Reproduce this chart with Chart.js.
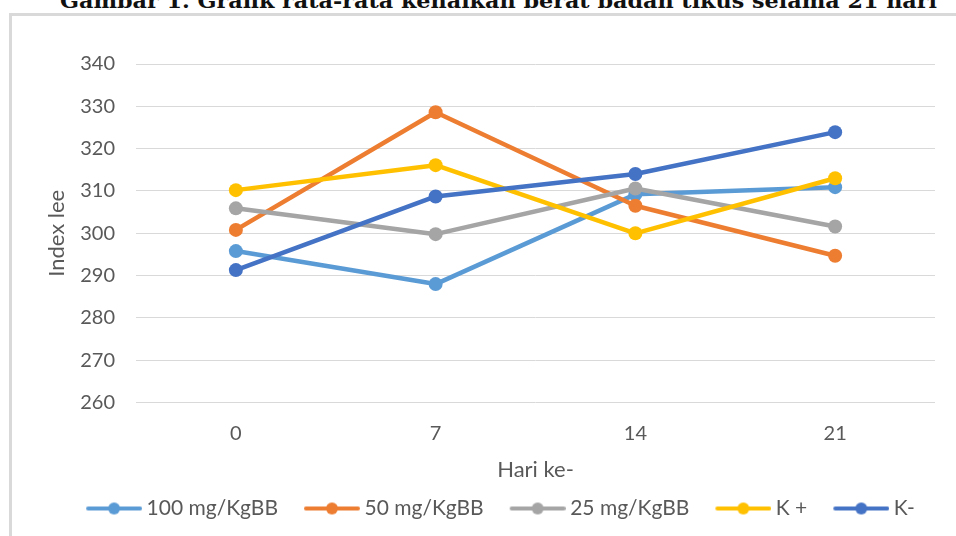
<!DOCTYPE html>
<html>
<head>
<meta charset="utf-8">
<script src="https://cdn.jsdelivr.net/npm/chart.js@4"></script>
<style>
  html, body { margin: 0; padding: 0; width: 956px; height: 536px; overflow: hidden; background: #fff; }
  #caption {
    position: absolute; left: 60px; top: -9px; white-space: nowrap;
    font: bold 20px "DejaVu Serif", serif; line-height: 1; color: #111;
    transform-origin: 0 0;
  }
  #frame { position: absolute; left: 9px; top: 13px; width: 975px; height: 540px; border: 3px solid #d9d9d9; }
  canvas { display: block; }
</style>
</head>
<body>
<div id="caption">Gambar 1. Grafik rata-rata kenaikan berat badan tikus selama 21 hari</div>
<div id="frame"><canvas id="c" width="975" height="540"></canvas></div>
<script>
// Hari pengamatan
const days = ['0', '7', '14', '21'];

// Rata-rata Index Lee per kelompok
const dose100 = [295.8, 288.0, 309.2, 310.9];
const dose50 = [300.8, 328.6, 306.5, 294.7];
const dose25 = [305.9, 299.8, 310.6, 301.6];
const kPlus = [310.2, 316.1, 300.0, 313.0];
const kMinus = [291.3, 308.7, 314.0, 323.9];

const seriesNames = ['100 mg/KgBB', '50 mg/KgBB', '25 mg/KgBB', 'K +', 'K-'];
const seriesValues = [dose100, dose50, dose25, kPlus, kMinus];
const seriesColors = ['#5B9BD5', '#ED7D31', '#A5A5A5', '#FFC000', '#4472C4'];

const textColor = '#595959';
const fontFamily = 'Lato, "Open Sans", sans-serif';

// Stretch the caption to its full line width
const cap = document.getElementById('caption');
cap.style.transform = 'scaleX(' + (877 / cap.getBoundingClientRect().width) + ')';

// Legend marker: a line segment with a dot in the middle
function legendMarker(color) {
  const c = document.createElement('canvas');
  c.width = 78; c.height = 14;
  const g = c.getContext('2d');
  g.strokeStyle = color; g.lineWidth = 4; g.lineCap = 'round';
  g.beginPath(); g.moveTo(24, 7); g.lineTo(76, 7); g.stroke();
  g.fillStyle = color;
  g.beginPath(); g.arc(50, 7, 6, 0, Math.PI * 2); g.fill();
  return c;
}
const markers = seriesColors.map(legendMarker);

const datasets = seriesNames.map((name, i) => ({
  label: name,
  data: seriesValues[i],
  borderColor: seriesColors[i],
  backgroundColor: seriesColors[i],
  borderWidth: 4.5,
  borderJoinStyle: 'round',
  borderCapStyle: 'round',
  pointRadius: 7,
  pointBorderWidth: 0,
  pointBackgroundColor: seriesColors[i],
  tension: 0,
  order: seriesNames.length - i
}));

new Chart(document.getElementById('c'), {
  type: 'line',
  data: { labels: days, datasets },
  options: {
    responsive: false,
    animation: false,
    devicePixelRatio: 1,
    layout: { padding: { left: 38, right: 52, top: 48, bottom: 27 } },
    plugins: {
      tooltip: { enabled: false },
      legend: {
        position: 'bottom',
        labels: {
          color: textColor,
          font: { family: fontFamily, size: 21 },
          usePointStyle: true,
          pointStyleWidth: 66,
          padding: 10,
          sort: (a, b) => a.datasetIndex - b.datasetIndex,
          generateLabels(chart) {
            return Chart.defaults.plugins.legend.labels.generateLabels(chart).map(item => {
              item.pointStyle = markers[item.datasetIndex];
              return item;
            });
          }
        }
      }
    },
    scales: {
      x: {
        offset: true,
        grid: { display: false },
        border: { display: false },
        ticks: { color: textColor, font: { family: fontFamily, size: 20 }, padding: 11 },
        title: {
          display: true, text: 'Hari ke-', color: textColor,
          font: { family: fontFamily, size: 22 }, padding: { top: 0, bottom: 5 }
        }
      },
      y: {
        min: 260, max: 340,
        ticks: { stepSize: 10, color: textColor, font: { family: fontFamily, size: 20 }, padding: 21 },
        grid: { color: '#d9d9d9', lineWidth: 1, drawTicks: false },
        border: { display: false },
        title: {
          display: true, text: 'Index lee', color: textColor,
          font: { family: fontFamily, size: 22 }, padding: { top: -6, bottom: 0 }
        },
        afterFit(scale) { scale.width = 86; }
      }
    }
  }
});
</script>
</body>
</html>
